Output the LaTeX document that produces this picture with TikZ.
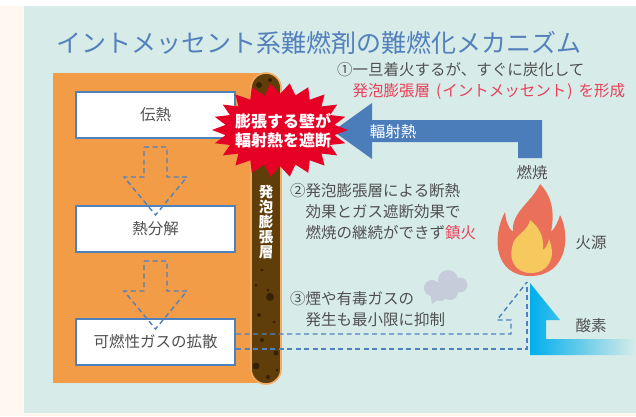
\documentclass[tikz,border=0pt]{standalone}
\usepackage{fontspec}
\setmainfont{Noto Sans CJK JP}
\usetikzlibrary{calc}
\definecolor{bgpanel}{RGB}{215,236,233}
\definecolor{boxorange}{RGB}{242,156,72}
\definecolor{layerbrown}{RGB}{96,62,10}
\definecolor{dotbrown}{RGB}{55,33,4}
\definecolor{wallred}{RGB}{230,0,38}
\definecolor{heatblue}{RGB}{75,125,187}
\definecolor{lineblue}{RGB}{79,129,189}
\definecolor{titleblue}{RGB}{84,128,188}
\definecolor{textgrey}{RGB}{80,80,80}
\definecolor{notered}{RGB}{233,64,90}
\definecolor{flameouter}{RGB}{234,112,90}
\definecolor{flameinner}{RGB}{246,201,95}
\definecolor{smoke}{RGB}{198,204,217}
\definecolor{oxygen}{RGB}{0,174,236}

\begin{document}
\begin{tikzpicture}[x=1pt, y=-1pt,
	stepbox/.style={draw=lineblue, line width=2pt, fill=white, minimum width=159pt, minimum height=46pt, text=textgrey, font=\fontsize{15.5}{18}\selectfont},
	hollowarrow/.style={draw=lineblue, line width=1.4pt, dash pattern=on 5pt off 3.5pt},
	note/.style={anchor=west, align=left, text=textgrey, inner sep=0pt, font=\fontsize{15.5}{21}\selectfont},
	label/.style={text=textgrey, inner sep=0pt, font=\fontsize{15.5}{18}\selectfont}]

	\useasboundingbox (0,0) rectangle (636,416);
	\fill[white!94!orange] (0,0) rectangle (636,416);
	\fill[white] (0,0) rectangle (636,6);
	\fill[bgpanel] (24,6) rectangle (636,413);

	% Titel
	\node[text=titleblue, font=\fontsize{25}{28}\selectfont] (title) at (319,43) {イントメッセント系難燃剤の難燃化メカニズム};

	% Bauteil mit Schicht
	\fill[boxorange] (53,73) rectangle (266,383);
	\draw[fill=layerbrown, draw=boxorange!85!white, line width=1.6pt, rounded corners=15pt] (251,73) rectangle (281,384);
	\foreach \x/\y/\r in {259/85/3, 270/80/2, 264/97/2.5, 274/104/1.5, 262/270/1.5, 256/285/1.5, 268/290/1.5, 270/297/4, 259/315/2, 274/322/1.5, 262/340/2, 276/353/2.5, 256/366/3.5, 268/377/2, 277/370/1.5}
		\fill[dotbrown] (\x,\y) circle (\r);
	\node[text=white, align=center, inner sep=0pt, font=\bfseries\fontsize{14.5}{15}\selectfont] (layer) at (266,222) {発\\泡\\膨\\張\\層};

	\node[stepbox] (heat) at (155.5,115) {伝熱};
	\node[stepbox] (decomp) at (155.5,229) {熱分解};
	\node[stepbox] (gas) at (155.5,342) {可燃性ガスの拡散};

	\foreach \y in {147,261}
		\draw[hollowarrow] (144,\y) -- (167,\y) -- (167,{\y+30}) -- (187,{\y+30}) -- (155.5,{\y+68}) -- (124,{\y+30}) -- (144,{\y+30}) -- cycle;

	% Feuer
	\coordinate (fire) at (527,282);
	\fill[flameouter] (540,184) .. controls (556,200) and (553,222) .. (551,232)
		.. controls (555,228) and (558,222) .. (560,215)
		.. controls (571,236) and (567,276) .. (530,276)
		.. controls (495,276) and (491,238) .. (505,212)
		.. controls (506,221) and (508,228) .. (513,232)
		.. controls (511,212) and (532,202) .. (540,184) -- cycle;
	\fill[flameinner] (530,220) .. controls (545,232) and (543,244) .. (543,250)
		.. controls (546,248) and (548,244) .. (549,239)
		.. controls (557,258) and (548,273) .. (531,273)
		.. controls (514,273) and (507,258) .. (514,241)
		.. controls (518,234) and (528,230) .. (530,220) -- cycle;
	\node[label] (burn) at (532,173) {燃焼};
	\node[label] (source) at (591,243) {火源};
	\node[label] (oxy) at (591,326) {酸素};

	% Sauerstoff
	\shade[left color=oxygen, right color=bgpanel] ($(fire)+(3,1)$) -- (560,320) -- (546,320) -- (546,339) -- (636,339) -- (636,355) -- (530,355) -- cycle;

	% Gas zum Feuer
	\draw[hollowarrow] (gas.east |- 0,334) -- (511,334) -- (511,320) -- (497,320) -- (fire);
	\draw[hollowarrow] (gas.east |- 0,349) -- (fire |- 0,349) -- (fire);

	% Strahlung
	\fill[heatblue] (333,131) -- (372,103) -- (372,120) -- (542,120) -- (542,158) -- (518,158) -- (518,142) -- (372,142) -- (372,159) -- cycle;
	\node[text=white, font=\fontsize{15.5}{18}\selectfont] (radiant) at (393,132) {輻射熱};

	\fill[wallred, shift={(280,130)}] (0:68 and 47)
		\foreach \i in {1,...,43} { -- ({\i*360/44}:{61.5+6.5*cos(\i*180)} and {41.5+5.5*cos(\i*180)}) } -- cycle;
	\node[text=white, align=center, inner sep=0pt, font=\bfseries\fontsize{16}{19}\selectfont] (wall) at (283,131) {膨張する壁が\\輻射熱を遮断};

	% Rauch
	\fill[smoke] (432,288) circle (8) (448,280) circle (10) (460,285) circle (7.5) (450,292) circle (8) (440,294) circle (7);
	\fill[smoke] (430,292) -- (440,298) -- (432,304) -- cycle;

	% Erlaeuterungen
	\node[note] (note1) at (337,81) {①一旦着火するが、すぐに炭化して\\\hspace*{1em}{\color{notered}発泡膨張層\hspace{6pt}(\hspace{1pt}イントメッセント\hspace{1pt})\hspace{6pt}を形成}};
	\node[note] (note2) at (290,212) {②発泡膨張層による断熱\\\hspace*{1em}効果とガス遮断効果で\\\hspace*{1em}燃焼の継続ができず{\color{notered}鎮火}};
	\node[note] (note3) at (290,309.5) {③煙や有毒ガスの\\\hspace*{1em}発生も最小限に抑制};

\end{tikzpicture}
\end{document}
